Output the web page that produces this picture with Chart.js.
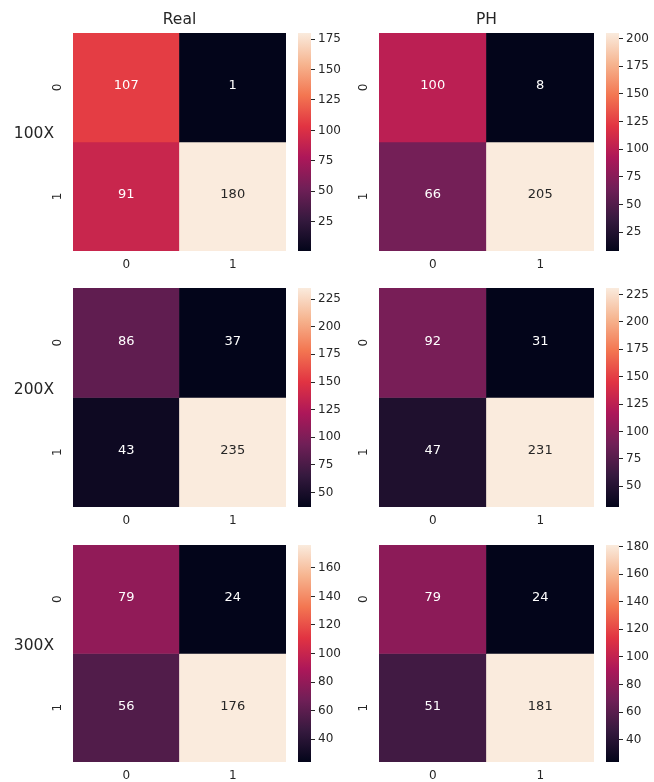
<!DOCTYPE html>
<html>
<head>
<meta charset="utf-8">
<title>Confusion matrices</title>
<script src="https://cdn.jsdelivr.net/npm/chart.js@4.4.1/dist/chart.umd.min.js"></script>
<style>
  html, body { margin: 0; padding: 0; background: #ffffff; }
  #fig { position: relative; width: 654px; height: 782px; overflow: hidden; background: #ffffff; }
  #fig canvas { position: absolute; }
</style>
</head>
<body>
<div id="fig"></div>
<script>
// ---- data -------------------------------------------------------------
const classLabels = ['0', '1'];
const columnTitles = ['Real', 'PH'];
const magnifications = ['100X', '200X', '300X'];

// confusion matrices, rows = true class, columns = predicted class
const real100 = [[107, 1], [91, 180]];
const ph100   = [[100, 8], [66, 205]];
const real200 = [[86, 37], [43, 235]];
const ph200   = [[92, 31], [47, 231]];
const real300 = [[79, 24], [56, 176]];
const ph300   = [[79, 24], [51, 181]];

// colour bar tick values
const ticksReal100 = [25, 50, 75, 100, 125, 150, 175];
const ticksPh100   = [25, 50, 75, 100, 125, 150, 175, 200];
const ticksReal200 = [50, 75, 100, 125, 150, 175, 200, 225];
const ticksPh200   = [50, 75, 100, 125, 150, 175, 200, 225];
const ticksReal300 = [40, 60, 80, 100, 120, 140, 160];
const ticksPh300   = [40, 60, 80, 100, 120, 140, 160, 180];

// ---- layout ------------------------------------------------------------
const FONT = '"DejaVu Sans", "Liberation Sans", sans-serif';
const TEXT = '#262626';
const TICK_SIZE = 12;
const colLeft  = [73, 379];
const colWidth = [213, 215];
const rowTop    = [33, 288, 545];
const rowHeight = [218, 219, 217];
const CB_GAP = 12, CB_W = 13;

// rocket colour map stops
const ROCKET = [
  [0.0,       [3, 5, 26]],
  [1 / 7,     [53, 25, 62]],
  [2 / 7,     [112, 31, 87]],
  [3 / 7,     [173, 23, 89]],
  [4 / 7,     [225, 51, 66]],
  [5 / 7,     [243, 118, 81]],
  [6 / 7,     [246, 180, 143]],
  [1.0,       [250, 235, 221]]
];

function rocket(t) {
  t = Math.max(0, Math.min(1, t));
  for (let i = 1; i < ROCKET.length; i++) {
    const [p1, c1] = ROCKET[i];
    const [p0, c0] = ROCKET[i - 1];
    if (t <= p1) {
      const f = (t - p0) / (p1 - p0);
      return c0.map((v, k) => Math.round(v + (c1[k] - v) * f));
    }
  }
  return ROCKET[ROCKET.length - 1][1];
}
const css = c => `rgb(${c[0]},${c[1]},${c[2]})`;

function luminance(c) {
  const lin = c.map(v => {
    v /= 255;
    return v <= 0.03928 ? v / 12.92 : Math.pow((v + 0.055) / 1.055, 2.4);
  });
  return 0.2126 * lin[0] + 0.7152 * lin[1] + 0.0722 * lin[2];
}

// value labels inside the cells
const cellText = {
  id: 'cellText',
  afterDatasetsDraw(chart) {
    const ctx = chart.ctx;
    ctx.save();
    ctx.font = `13px ${FONT}`;
    ctx.textAlign = 'center';
    ctx.textBaseline = 'middle';
    chart.data.datasets.forEach((ds, i) => {
      chart.getDatasetMeta(i).data.forEach((bar, j) => {
        const rgb = ds.cellRgb[j];
        ctx.fillStyle = luminance(rgb) > 0.408 ? TEXT : '#ffffff';
        ctx.fillText(String(ds.counts[j]), bar.x, (bar.y + bar.base) / 2 - 1.5);
      });
    });
    ctx.restore();
  }
};

// column title above the matrix and magnification label on its left
const panelText = {
  id: 'panelText',
  afterDraw(chart, args, opts) {
    const a = chart.chartArea;
    const ctx = chart.ctx;
    ctx.save();
    ctx.fillStyle = TEXT;
    if (opts.title) {
      ctx.font = `15.5px ${FONT}`;
      ctx.textAlign = 'center';
      ctx.textBaseline = 'alphabetic';
      ctx.fillText(opts.title, (a.left + a.right) / 2, a.top - 9);
    }
    if (opts.rowLabel) {
      ctx.font = `15.5px ${FONT}`;
      ctx.textAlign = 'right';
      ctx.textBaseline = 'middle';
      ctx.fillText(opts.rowLabel, a.left - 19, (a.top + a.bottom) / 2 - 8);
    }
    ctx.restore();
  }
};

const fig = document.getElementById('fig');
function makeCanvas(left, top, w, h) {
  const c = document.createElement('canvas');
  c.width = w; c.height = h;
  c.style.left = left + 'px'; c.style.top = top + 'px';
  c.style.width = w + 'px'; c.style.height = h + 'px';
  fig.appendChild(c);
  return c;
}

const PAD_T = 25, PAD_R = 20, AX_W = 70, AX_H = 30;

function heatmap(matrix, tickValues, col, row) {
  const vmin = Math.min(...matrix.flat());
  const vmax = Math.max(...matrix.flat());
  const left = colLeft[col], top = rowTop[row];
  const w = colWidth[col], h = rowHeight[row];

  const datasets = matrix.map((rowVals, r) => {
    const rgbs = rowVals.map(v => rocket((v - vmin) / (vmax - vmin)));
    return {
      data: rowVals.map(() => [r, r + 1]),
      counts: rowVals,
      cellRgb: rgbs,
      backgroundColor: rgbs.map(css),
      borderWidth: 0,
      borderSkipped: false,
      grouped: false,
      barPercentage: 1,
      categoryPercentage: 1
    };
  });

  const cv = makeCanvas(left - AX_W, top - PAD_T, AX_W + w + PAD_R, PAD_T + h + AX_H);
  new Chart(cv, {
    type: 'bar',
    data: { labels: classLabels, datasets },
    options: {
      responsive: false,
      animation: false,
      devicePixelRatio: 1,
      layout: { padding: { top: PAD_T, right: PAD_R, left: 0, bottom: 0 } },
      plugins: {
        legend: { display: false },
        tooltip: { enabled: false },
        panelText: {
          title: row === 0 ? columnTitles[col] : null,
          rowLabel: col === 0 ? magnifications[row] : null
        }
      },
      scales: {
        x: {
          type: 'category',
          offset: true,
          grid: { display: false, drawTicks: false },
          border: { display: false },
          ticks: { color: TEXT, font: { family: FONT, size: TICK_SIZE }, padding: 7 },
          afterFit: s => { s.height = AX_H; }
        },
        y: {
          type: 'linear',
          min: 0, max: 2, reverse: true,
          grid: { display: false, drawTicks: false },
          border: { display: false },
          afterBuildTicks: s => { s.ticks = classLabels.map((_, i) => ({ value: i + 0.5 })); },
          ticks: {
            color: TEXT, font: { family: FONT, size: TICK_SIZE },
            minRotation: 90, maxRotation: 90, crossAlign: 'center', padding: 11.5,
            autoSkip: false,
            callback: v => classLabels[Math.floor(v)]
          },
          afterFit: s => { s.width = AX_W; }
        }
      }
    },
    plugins: [cellText, panelText]
  });

  // colour bar
  const CB_PAD = 25, CB_AX = 45;
  const cbLeft = left + w + CB_GAP;
  const cb = makeCanvas(cbLeft, top - CB_PAD, CB_W + CB_AX + 5, h + 2 * CB_PAD);
  const gradientFill = ctx => {
    const ch = ctx.chart, a = ch.chartArea;
    if (!a) return css(rocket(0.5));
    const g = ch.ctx.createLinearGradient(0, a.bottom, 0, a.top);
    ROCKET.forEach(([p, c]) => g.addColorStop(p, css(c)));
    return g;
  };
  new Chart(cb, {
    type: 'bar',
    data: {
      labels: [''],
      datasets: [{
        data: [[vmin, vmax]],
        backgroundColor: gradientFill,
        borderWidth: 0,
        borderSkipped: false,
        barPercentage: 1,
        categoryPercentage: 1
      }]
    },
    options: {
      responsive: false,
      animation: false,
      devicePixelRatio: 1,
      layout: { padding: { top: CB_PAD, bottom: CB_PAD, left: 0, right: 5 } },
      plugins: { legend: { display: false }, tooltip: { enabled: false } },
      scales: {
        x: { display: false },
        y: {
          position: 'right',
          min: vmin, max: vmax,
          afterBuildTicks: s => { s.ticks = tickValues.map(v => ({ value: v })); },
          grid: { drawOnChartArea: false, drawTicks: true, tickLength: 4, tickColor: TEXT, lineWidth: 1 },
          border: { display: false },
          ticks: { color: TEXT, font: { family: FONT, size: TICK_SIZE }, padding: 3, autoSkip: false },
          afterFit: s => { s.width = CB_AX; }
        }
      }
    }
  });
}

heatmap(real100, ticksReal100, 0, 0);
heatmap(ph100,   ticksPh100,   1, 0);
heatmap(real200, ticksReal200, 0, 1);
heatmap(ph200,   ticksPh200,   1, 1);
heatmap(real300, ticksReal300, 0, 2);
heatmap(ph300,   ticksPh300,   1, 2);
</script>
</body>
</html>
